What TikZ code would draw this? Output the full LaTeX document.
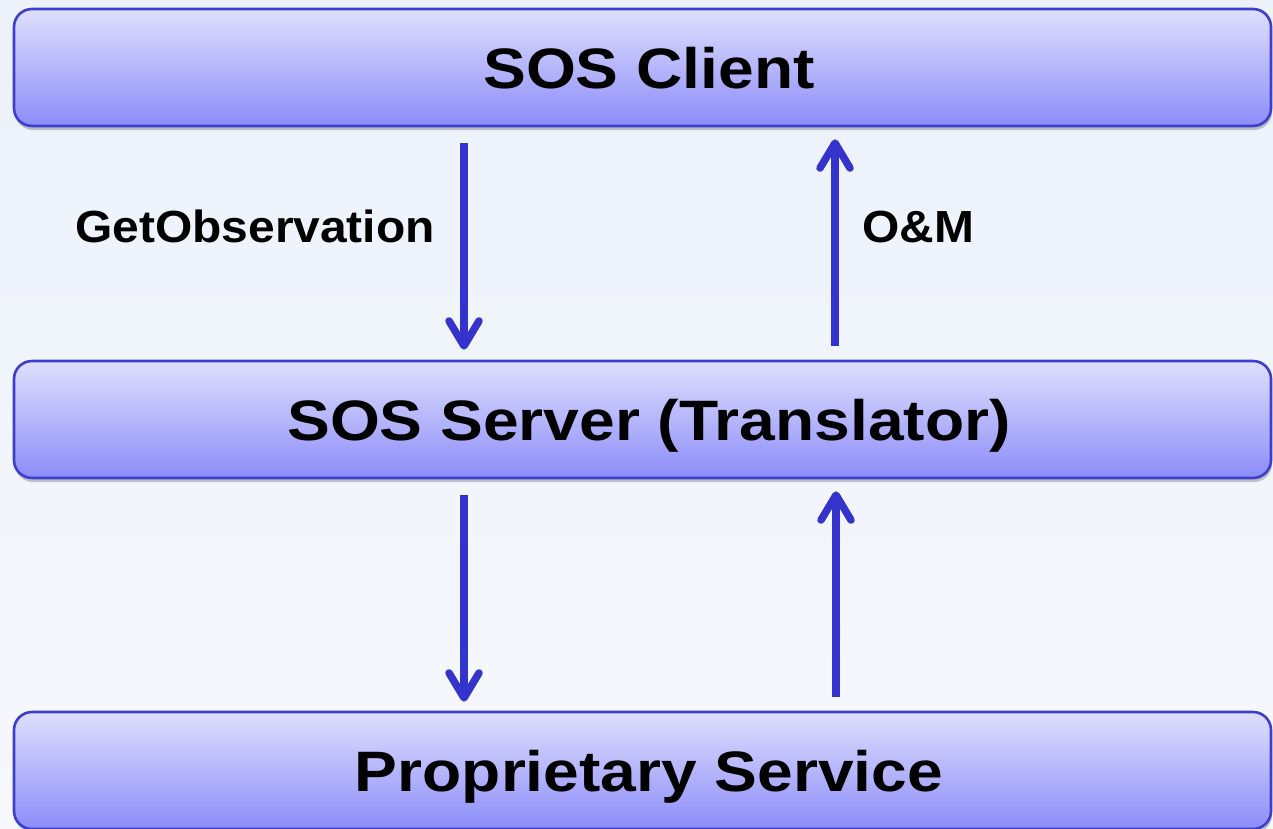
\documentclass[tikz,border=0pt]{standalone}
\usepackage{fontspec}
\setmainfont{Liberation Sans}
\newfontfamily\boxfont[FakeStretch=1.125]{Liberation Sans}
\newfontfamily\labfont[FakeStretch=1.065]{Liberation Sans}
\usetikzlibrary{arrows.meta,shadows}

\definecolor{bgtop}{RGB}{236,241,250}
\definecolor{bgbot}{RGB}{246,248,253}
\definecolor{boxtop}{RGB}{223,223,253}
\definecolor{boxbot}{RGB}{140,140,250}
\definecolor{boxedge}{RGB}{62,62,204}
\definecolor{flowblue}{RGB}{52,52,204}

\tikzset{
  layer/.style={
    rectangle, rounded corners=18pt,
    draw=boxedge, line width=2.6pt,
    top color=boxtop, bottom color=boxbot,
    drop shadow={shadow xshift=1pt, shadow yshift=-4pt, fill=black, opacity=0.22},
    minimum width=1257pt, minimum height=117pt,
    inner sep=0pt,
    font=\boxfont\bfseries\fontsize{57}{60}\selectfont,
    text height=41pt, text depth=0pt,
    execute at begin node=\hspace*{13pt}
  },
  msg/.style={
    inner sep=0pt,
    font=\labfont\bfseries\fontsize{45}{48}\selectfont,
    text height=32pt, text depth=0pt
  },
  flow/.style={
    draw=flowblue, line width=7.5pt,
    -{Straight Barb[round, length=25pt, width=30pt]}
  }
}

\begin{document}
\begin{tikzpicture}[x=1pt, y=-1pt]
  % page frame and background
  \useasboundingbox (0,0) rectangle (1273,828);
  \clip (0,0) rectangle (1273,828);
  \shade[top color=bgtop, bottom color=bgbot] (0,0) rectangle (1273,828);

  % the three layers
  \node[layer] (client) at (642.5,67.5)  {SOS Client};
  \node[layer] (server) at (642.5,419.5) {SOS Server (Translator)};
  \node[layer] (service) at (642.5,770.5) {Proprietary Service};

  % request / response labels
  \node[msg, anchor=east] (req) at (435,226) {GetObservation};
  \node[msg, anchor=west] (resp) at (862,226) {O\&M};

  % client <-> server
  \draw[flow, shorten <=16pt, shorten >=10pt]
    ([xshift=-178.5pt]client.south) -- ([xshift=-178.5pt]server.north);
  \draw[flow, shorten <=14pt, shorten >=12pt]
    ([xshift=192.5pt]server.north) -- ([xshift=192.5pt]client.south);

  % server <-> proprietary service
  \draw[flow, shorten <=16pt, shorten >=9pt]
    ([xshift=-178.5pt]server.south) -- ([xshift=-178.5pt]service.north);
  \draw[flow, shorten <=14pt, shorten >=12pt]
    ([xshift=193.5pt]service.north) -- ([xshift=193.5pt]server.south);
\end{tikzpicture}
\end{document}
